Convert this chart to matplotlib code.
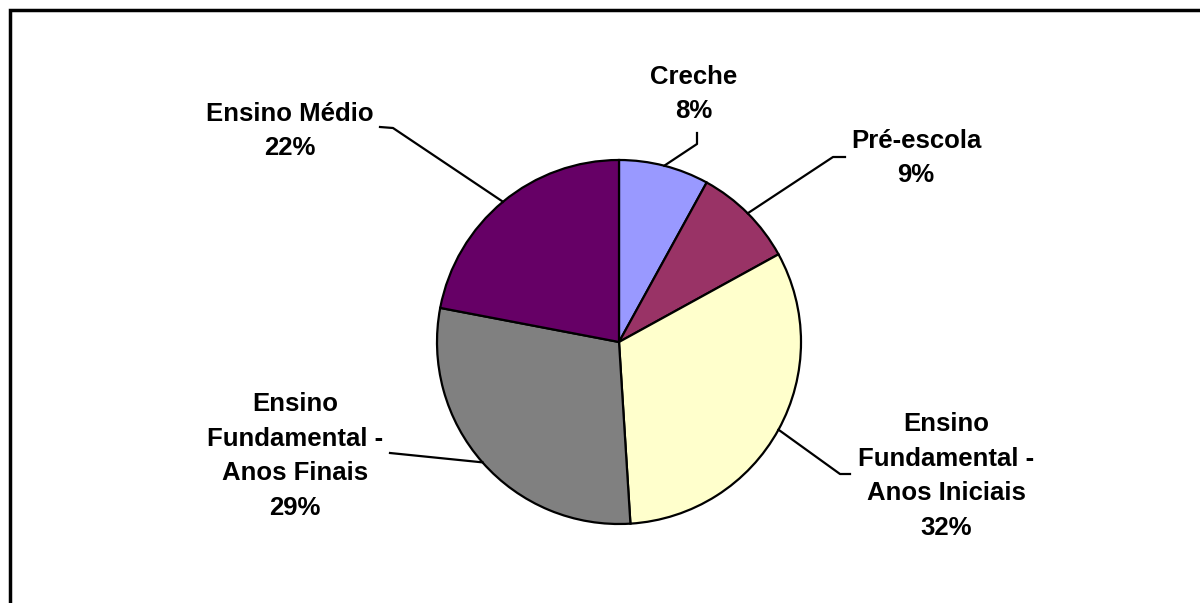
import numpy as np
import matplotlib
matplotlib.use("Agg")
import matplotlib.pyplot as plt
from matplotlib.patches import Rectangle

# dados do grafico
categorias = ["Creche", "Pré-escola", "Ensino\nFundamental -\nAnos Iniciais",
              "Ensino\nFundamental -\nAnos Finais", "Ensino Médio"]
percentuais = [8, 9, 32, 29, 22]
cores = ["#9999FF", "#993366", "#FFFFCC", "#808080", "#660066"]

W, H = 1200, 603
plt.rcParams['font.family'] = ['Liberation Sans', 'DejaVu Sans']

fig = plt.figure(figsize=(W / 100, H / 100), dpi=100)
ax = fig.add_axes([0, 0, 1, 1])

cx, cy, r = 619, H - 342, 182
wedges, _ = ax.pie(percentuais, colors=cores, startangle=90, counterclock=False,
                   radius=r, center=(cx, cy), frame=True,
                   wedgeprops=dict(edgecolor='black', linewidth=1.6))
ax.set_xlim(0, W)
ax.set_ylim(0, H)
ax.set_aspect('equal')
ax.axis('off')

# posicoes dos rotulos (pixels) e cotovelo da linha guia
rotulo_pos = [(694, 94), (916, 158), (946, 476), (295, 456), (290, 131)]
cotovelo = [[(697, 144), (697, 133)],
            [(833, 157), (845, 157)],
            [(840, 474), (850, 474)],
            [(390, 453)],
            [(393, 128), (380, 127)]]

for w, cat, p, (tx, ty), cot in zip(wedges, categorias, percentuais, rotulo_pos, cotovelo):
    ang = np.deg2rad((w.theta1 + w.theta2) / 2)
    ex, ey = cx + r * np.cos(ang), cy + r * np.sin(ang)
    xs = [ex] + [c[0] for c in cot]
    ys = [ey] + [H - c[1] for c in cot]
    ax.plot(xs, ys, color='black', lw=1.6, zorder=1)
    ax.text(tx, H - ty, f"{cat}\n{p}%", ha='center', va='center', multialignment='center',
            fontsize=18.5, fontweight='bold', linespacing=1.56)

# moldura
ax.add_patch(Rectangle((10, -20), W + 20, H - 10 + 20, fill=False,
                       edgecolor='black', lw=2.5, clip_on=False))

fig.savefig("out.png", dpi=100)
